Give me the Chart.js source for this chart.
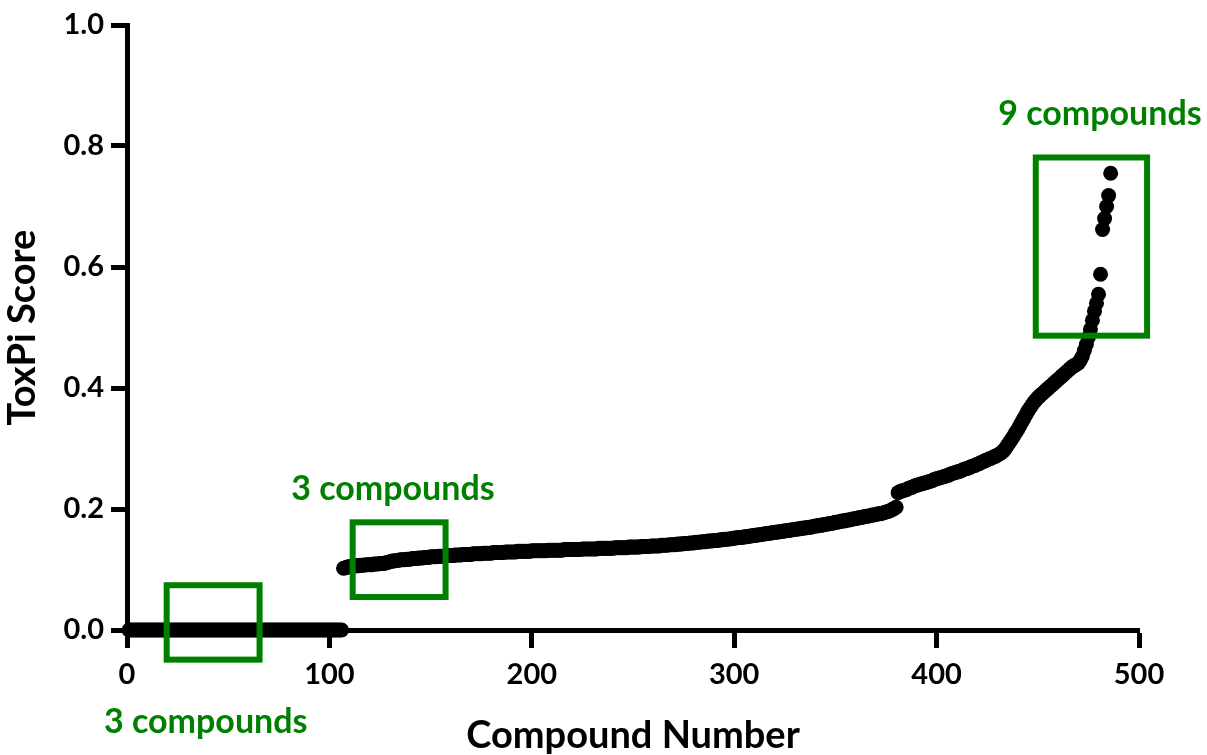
<!DOCTYPE html>
<html>
<head>
<meta charset="utf-8">
<script src="https://cdn.jsdelivr.net/npm/chart.js@4.4.1/dist/chart.umd.min.js"></script>
<style>
  html, body { margin: 0; padding: 0; background: #fff; }
  #wrap { width: 1207px; height: 755px; position: relative; }
</style>
</head>
<body>
<div id="wrap"><canvas id="toxpiChart"></canvas></div>
<script>
// ToxPi score per compound, sorted ascending (compound 1 first)
const zeroScores = [
  0, 0, 0, 0, 0, 0, 0, 0, 0, 0, 0, 0, 0, 0, 0, 0, 0, 0, 0, 0,
  0, 0, 0, 0, 0, 0, 0, 0, 0, 0, 0, 0, 0, 0, 0, 0, 0, 0, 0, 0,
  0, 0, 0, 0, 0, 0, 0, 0, 0, 0, 0, 0, 0, 0, 0, 0, 0, 0, 0, 0,
  0, 0, 0, 0, 0, 0, 0, 0, 0, 0, 0, 0, 0, 0, 0, 0, 0, 0, 0, 0,
  0, 0, 0, 0, 0, 0, 0, 0, 0, 0, 0, 0, 0, 0, 0, 0, 0, 0, 0, 0,
  0, 0, 0, 0, 0, 0
];
const rankedScores = [
  0.102, 0.103, 0.104, 0.105,
  0.105, 0.106, 0.106, 0.106, 0.107, 0.107, 0.107, 0.108, 0.108, 0.108,
  0.108, 0.109, 0.109, 0.109, 0.110, 0.110, 0.110, 0.111, 0.112, 0.113,
  0.114, 0.114, 0.115, 0.115, 0.116, 0.116, 0.116, 0.117, 0.117, 0.117,
  0.118, 0.118, 0.118, 0.119, 0.119, 0.119, 0.120, 0.120, 0.120, 0.121,
  0.121, 0.121, 0.121, 0.122, 0.122, 0.122, 0.122, 0.123, 0.123, 0.123,
  0.123, 0.124, 0.124, 0.124, 0.124, 0.125, 0.125, 0.125, 0.125, 0.125,
  0.126, 0.126, 0.126, 0.126, 0.126, 0.127, 0.127, 0.127, 0.127, 0.127,
  0.128, 0.128, 0.128, 0.128, 0.128, 0.128, 0.129, 0.129, 0.129, 0.129,
  0.129, 0.129, 0.130, 0.130, 0.130, 0.130, 0.130, 0.130, 0.130, 0.131,
  0.131, 0.131, 0.131, 0.131, 0.131, 0.131, 0.131, 0.132, 0.132, 0.132,
  0.132, 0.132, 0.132, 0.132, 0.132, 0.133, 0.133, 0.133, 0.133, 0.133,
  0.133, 0.133, 0.133, 0.133, 0.134, 0.134, 0.134, 0.134, 0.134, 0.134,
  0.134, 0.134, 0.135, 0.135, 0.135, 0.135, 0.135, 0.135, 0.135, 0.135,
  0.136, 0.136, 0.136, 0.136, 0.136, 0.136, 0.136, 0.137, 0.137, 0.137,
  0.137, 0.137, 0.137, 0.138, 0.138, 0.138, 0.138, 0.138, 0.139, 0.139,
  0.139, 0.139, 0.139, 0.140, 0.140, 0.140, 0.140, 0.141, 0.141, 0.141,
  0.141, 0.142, 0.142, 0.142, 0.143, 0.143, 0.143, 0.144, 0.144, 0.144,
  0.145, 0.145, 0.145, 0.146, 0.146, 0.146, 0.147, 0.147, 0.147, 0.148,
  0.148, 0.148, 0.149, 0.149, 0.150, 0.150, 0.150, 0.151, 0.151, 0.152,
  0.152, 0.153, 0.153, 0.153, 0.154, 0.154, 0.155, 0.155, 0.156, 0.156,
  0.157, 0.157, 0.158, 0.158, 0.159, 0.159, 0.160, 0.160, 0.161, 0.161,
  0.162, 0.162, 0.163, 0.163, 0.164, 0.164, 0.165, 0.165, 0.166, 0.166,
  0.167, 0.167, 0.168, 0.168, 0.169, 0.169, 0.170, 0.170, 0.171, 0.172,
  0.172, 0.173, 0.173, 0.174, 0.175, 0.175, 0.176, 0.176, 0.177, 0.178,
  0.178, 0.179, 0.180, 0.180, 0.181, 0.182, 0.182, 0.183, 0.184, 0.184,
  0.185, 0.186, 0.186, 0.187, 0.188, 0.188, 0.189, 0.190, 0.190, 0.191,
  0.192, 0.192, 0.193, 0.194, 0.195, 0.196, 0.197, 0.199, 0.201, 0.203,
  0.227, 0.229, 0.230, 0.231, 0.232, 0.234, 0.235, 0.236, 0.238, 0.239,
  0.240, 0.241, 0.242, 0.243, 0.244, 0.245, 0.246, 0.247, 0.249, 0.250,
  0.251, 0.252, 0.253, 0.254, 0.255, 0.256, 0.258, 0.259, 0.260, 0.261,
  0.262, 0.263, 0.265, 0.266, 0.267, 0.268, 0.270, 0.271, 0.272, 0.274,
  0.275, 0.277, 0.278, 0.280, 0.281, 0.283, 0.284, 0.286, 0.287, 0.289,
  0.291, 0.293, 0.296, 0.300, 0.305, 0.310, 0.315, 0.320, 0.326, 0.331,
  0.337, 0.343, 0.349, 0.355, 0.361, 0.366, 0.371, 0.376, 0.380, 0.384,
  0.387, 0.390, 0.393, 0.396, 0.399, 0.402, 0.405, 0.408, 0.411, 0.414,
  0.417, 0.420, 0.423, 0.426, 0.429, 0.432, 0.435, 0.437, 0.439, 0.441,
  0.446, 0.452, 0.462, 0.472, 0.484, 0.497, 0.512, 0.527, 0.540, 0.555,
  0.588, 0.662, 0.680, 0.700, 0.718, 0.755
];
const toxpiScores = zeroScores.concat(rankedScores);

const xTickValues = [0, 100, 200, 300, 400, 500];
const yTickValues = [0, 0.2, 0.4, 0.6, 0.8, 1.0];
const calloutLabels = ['3 compounds', '3 compounds', '9 compounds'];

// green callouts, in data units
const calloutGreen = '#008000';
const callouts = [
  { box: [19.6, 65.5, -0.049, 0.074], text: [38.9, -0.170] },
  { box: [111.5, 157.4, 0.0545, 0.178], text: [131.4, 0.215] },
  { box: [449, 504, 0.4865, 0.781], text: [480.7, 0.835] }
];

const calloutPlugin = {
  id: 'callouts',
  afterDraw(chart) {
    const ctx = chart.ctx;
    const xs = chart.scales.x, ys = chart.scales.y;
    ctx.save();
    ctx.strokeStyle = calloutGreen;
    ctx.lineWidth = 6;
    callouts.forEach(function (c, i) {
      const x0 = xs.getPixelForValue(c.box[0]);
      const x1 = xs.getPixelForValue(c.box[1]);
      const y0 = ys.getPixelForValue(c.box[2]);
      const y1 = ys.getPixelForValue(c.box[3]);
      ctx.strokeRect(x0, y1, x1 - x0, y0 - y1);
      ctx.fillStyle = calloutGreen;
      ctx.font = 'bold 34px Lato';
      ctx.textAlign = 'center';
      ctx.textBaseline = 'alphabetic';
      ctx.fillText(calloutLabels[i], xs.getPixelForValue(c.text[0]), ys.getPixelForValue(c.text[1]));
    });
    ctx.restore();
  }
};

const tickFont = { family: 'Lato', size: 29, weight: 'bold' };
const titleFont = { family: 'Lato', size: 38, weight: 'bold', lineHeight: 1 };

const ctx = document.getElementById('toxpiChart').getContext('2d');
new Chart(ctx, {
  type: 'scatter',
  data: {
    datasets: [{
      label: 'ToxPi Score',
      data: toxpiScores.map((v, i) => ({ x: i + 1, y: v })),
      backgroundColor: '#000',
      borderWidth: 0,
      pointRadius: 7.5,
      pointHoverRadius: 7.5,
      clip: false
    }]
  },
  options: {
    responsive: true,
    maintainAspectRatio: false,
    animation: false,
    layout: { padding: { left: 0, right: 68, top: 25, bottom: 0 } },
    plugins: {
      legend: { display: false },
      tooltip: { enabled: false }
    },
    scales: {
      x: {
        type: 'linear',
        min: 0,
        max: 500,
        afterBuildTicks: s => { s.ticks = xTickValues.map(v => ({ value: v })); },
        afterFit: s => { s.height = 125; },
        grid: { drawOnChartArea: false, drawTicks: true, tickLength: 18, tickWidth: 5, tickColor: '#000' },
        border: { display: true, color: '#000', width: 5 },
        ticks: { color: '#000', font: tickFont, padding: 9, maxRotation: 0, autoSkip: false },
        title: { display: true, text: 'Compound Number', color: '#000', font: titleFont, padding: 0 }
      },
      y: {
        min: 0,
        max: 1,
        afterBuildTicks: s => { s.ticks = yTickValues.map(v => ({ value: v })); },
        afterFit: s => { s.width = 127; },
        grid: { drawOnChartArea: false, drawTicks: true, tickLength: 16, tickWidth: 5, tickColor: '#000' },
        border: { display: true, color: '#000', width: 5 },
        ticks: { color: '#000', font: tickFont, padding: 7, callback: v => v.toFixed(1) },
        title: { display: true, text: 'ToxPi Score', color: '#000', font: titleFont, padding: { top: 4, bottom: 0 } }
      }
    }
  },
  plugins: [calloutPlugin]
});
</script>
</body>
</html>
